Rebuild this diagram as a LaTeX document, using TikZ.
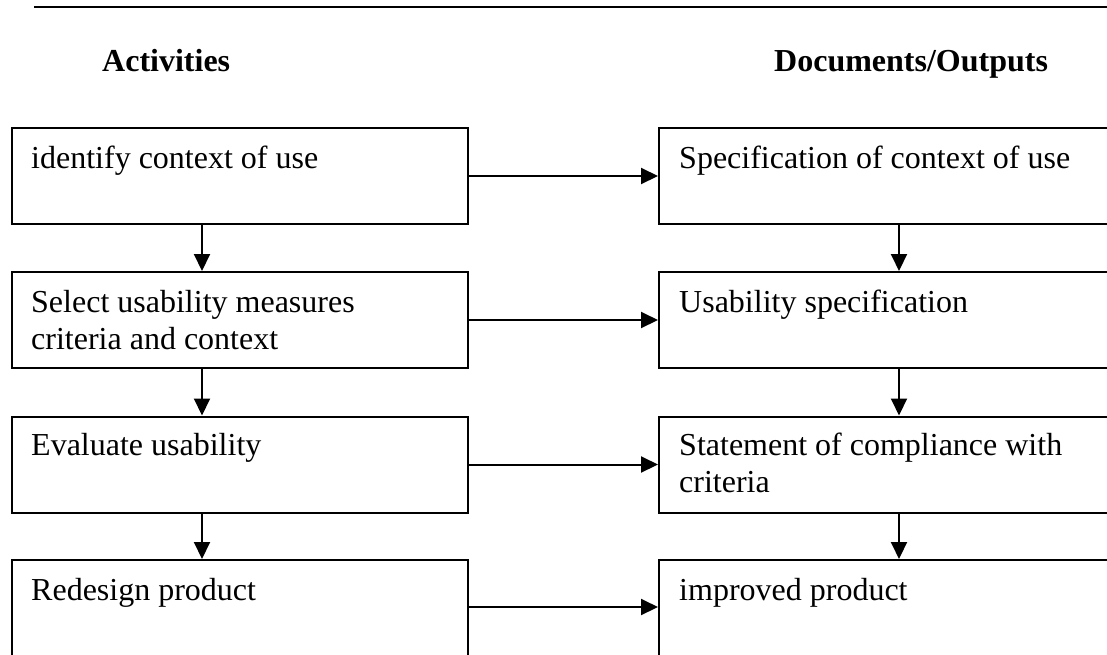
\documentclass[tikz,border=0pt]{standalone}
\usepackage{fontspec}
\setmainfont{Liberation Serif}
\usetikzlibrary{arrows.meta}

\tikzset{
  stagebox/.style={draw=black, line width=2pt, inner sep=0pt, anchor=north west},
  boxtext/.style={anchor=base west, inner sep=0pt, align=left,
                  font=\fontsize{32}{37}\selectfont},
  headtext/.style={anchor=base west, inner sep=0pt,
                   font=\fontsize{32}{37}\selectfont\bfseries},
  flow/.style={line width=2pt, -{Triangle[length=17pt,width=16pt]}},
}

\begin{document}
\begin{tikzpicture}[x=1pt, y=-1pt]
  \useasboundingbox (0,0) rectangle (1107,654);
  \clip (0,0) rectangle (1107,654);

  % rule across the top of the page
  \draw[line width=2.4pt] (34,7) -- (1107,7);

  % column headings
  \node[headtext] (hAct) at (102,71) {Activities};
  \node[headtext] (hDoc) at (774,71) {Documents/Outputs};

  % activity boxes (left column)
  \node[stagebox, minimum width=456pt, minimum height=96pt] (L1) at (11,127) {};
  \node[stagebox, minimum width=456pt, minimum height=96pt] (L2) at (11,271) {};
  \node[stagebox, minimum width=456pt, minimum height=96pt] (L3) at (11,415.5) {};
  \node[stagebox, minimum width=456pt, minimum height=99pt] (L4) at (11,559) {};

  % output boxes (right column, running past the page edge)
  \node[stagebox, minimum width=470pt, minimum height=96pt] (R1) at (658,127) {};
  \node[stagebox, minimum width=470pt, minimum height=96pt] (R2) at (658,271) {};
  \node[stagebox, minimum width=470pt, minimum height=96pt] (R3) at (658,415.5) {};
  \node[stagebox, minimum width=470pt, minimum height=99pt] (R4) at (658,559) {};

  % box labels (a two-line label sits on the baseline of its last line)
  \node[boxtext] (tL1) at (31,168) {identify context of use};
  \node[boxtext] (tL2) at (31,349) {Select usability measures\\criteria and context};
  \node[boxtext] (tL3) at (31,455) {Evaluate usability};
  \node[boxtext] (tL4) at (31,600) {Redesign product};

  \node[boxtext] (tR1) at (679,168) {Specification of context of use};
  \node[boxtext] (tR2) at (679,312) {Usability specification};
  \node[boxtext] (tR3) at (679,492) {Statement of compliance with\\criteria};
  \node[boxtext] (tR4) at (679,600) {improved product};

  % columns of the vertical connectors
  \coordinate (lx) at (202,0);
  \coordinate (rx) at (899,0);
  \coordinate (bottomrow) at (0,607);

  % activity to output
  \draw[flow] (L1.east) -- (R1.west);
  \draw[flow] (L2.east) -- (R2.west);
  \draw[flow] (L3.east) -- (R3.west);
  \draw[flow] (L4.east |- bottomrow) -- (R4.west |- bottomrow);

  % sequence down each column
  \draw[flow] (lx |- L1.south) -- (lx |- L2.north);
  \draw[flow] (lx |- L2.south) -- (lx |- L3.north);
  \draw[flow] (lx |- L3.south) -- (lx |- L4.north);
  \draw[flow] (rx |- R1.south) -- (rx |- R2.north);
  \draw[flow] (rx |- R2.south) -- (rx |- R3.north);
  \draw[flow] (rx |- R3.south) -- (rx |- R4.north);
\end{tikzpicture}
\end{document}
